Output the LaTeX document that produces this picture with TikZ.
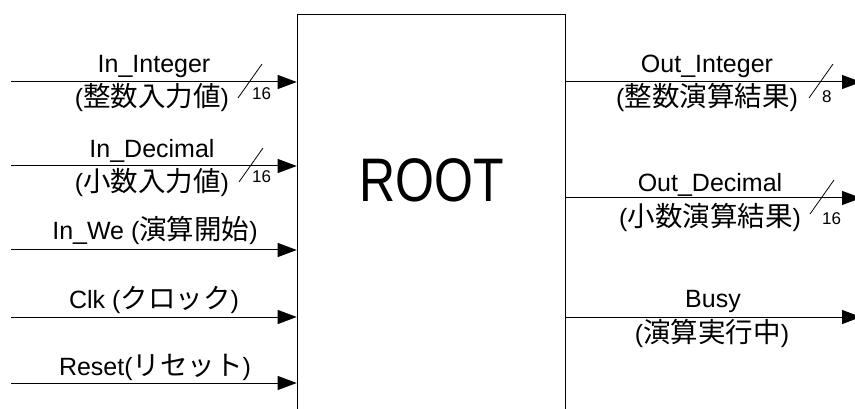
\documentclass[tikz,border=0pt]{standalone}
\usepackage{fontspec}
\setmainfont{Liberation Sans}
\newfontfamily\cjk{Noto Sans CJK JP}[Scale=1.1]
\usetikzlibrary{arrows.meta}
\newcommand{\J}[1]{{\cjk #1}}

\begin{document}
\begin{tikzpicture}[x=1pt,y=-1pt,
  sig/.style={line width=1pt,-{Triangle[length=19pt,width=14pt]}},
  lbl/.style={inner sep=0pt,anchor=base,font=\fontsize{25}{30}\selectfont},
  num/.style={inner sep=0pt,anchor=base west,font=\fontsize{17}{20}\selectfont},
  busmark/.style={line width=0.8pt}]
\useasboundingbox (0,0) rectangle (855,409);

% main block
\node[draw,line width=1.3pt,minimum width=268pt,minimum height=420pt,
      inner sep=0pt,anchor=north west] (root) at (296.7,14) {};
\node[inner sep=0pt,anchor=base,font=\fontsize{50}{60}\selectfont]
      (title) at (432,202) {\scalebox{1}[1.23]{ROOT}};

% input signals
\coordinate (i1) at (11,82);
\coordinate (i2) at (11,166);
\coordinate (i3) at (11,250);
\coordinate (i4) at (11,317);
\coordinate (i5) at (11,383);
\foreach \s in {i1,i2,i3,i4,i5}
  \draw[sig] (\s) -- (\s -| root.west);

% output signals
\coordinate (o1) at (861,82);
\coordinate (o2) at (861,198);
\coordinate (o3) at (861,317);
\foreach \s in {o1,o2,o3}
  \draw[sig] (\s -| root.east) -- (\s);

% bus width marks
\coordinate (b1) at (250,82);
\coordinate (b2) at (251,166);
\coordinate (b3) at (821,82);
\coordinate (b4) at (822,198);
\foreach \b in {b1,b2,b3,b4}
  \draw[busmark] (\b) ++(-12,16) -- ++(24,-34);
\node[num] (n1) at (252,100) {16};
\node[num] (n2) at (252,183) {16};
\node[num] (n3) at (822,103) {8};
\node[num] (n4) at (822,225) {16};

% input labels
\node[lbl] (l1a) at (154,73)  {In\_Integer};
\node[lbl] (l1b) at (152,107) {(\J{整数入力値})};
\node[lbl] (l2a) at (152,158) {In\_Decimal};
\node[lbl] (l2b) at (152,192) {(\J{小数入力値})};
\node[lbl] (l3)  at (155,240) {In\_We (\J{演算開始})};
\node[lbl] (l4)  at (154,308) {Clk (\J{クロック})};
\node[lbl] (l5)  at (155,375) {Reset(\J{リセット})};

% output labels
\node[lbl] (r1a) at (707,73)  {Out\_Integer};
\node[lbl] (r1b) at (707,107) {(\J{整数演算結果})};
\node[lbl] (r2a) at (710,192) {Out\_Decimal};
\node[lbl] (r2b) at (710,226) {(\J{小数演算結果})};
\node[lbl] (r3a) at (713,307) {Busy};
\node[lbl] (r3b) at (712,342) {(\J{演算実行中})};
\end{tikzpicture}
\end{document}
